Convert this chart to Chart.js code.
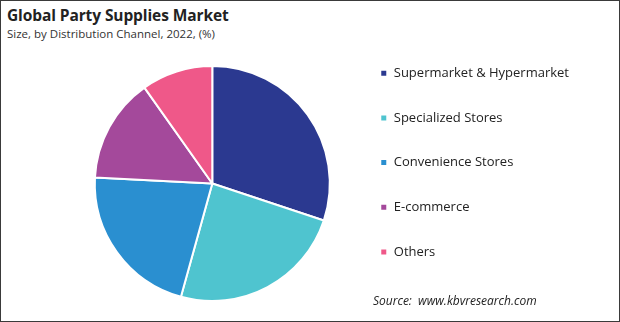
<!DOCTYPE html>
<html>
<head>
<meta charset="utf-8">
<script src="https://cdn.jsdelivr.net/npm/chart.js@4.4.0/dist/chart.umd.min.js"></script>
<style>
  html, body { margin: 0; padding: 0; background: #fff; }
  #frame {
    position: relative; width: 620px; height: 322px; box-sizing: border-box;
    border: 1px solid #3a3a3a; font-family: "Open Sans", sans-serif; color: #222; overflow: hidden;
  }
  #title { position: absolute; left: 6px; top: 3px; font-size: 15.5px; font-weight: bold; letter-spacing: -0.1px; }
  #subtitle { position: absolute; left: 6px; top: 25px; font-size: 11.5px; color: #333; }
  #source { position: absolute; left: 372px; top: 291px; font-size: 12px; font-style: italic; color: #222; }
  #wrap { position: absolute; left: 0; top: 34px; width: 618px; height: 297px; }
</style>
</head>
<body>
<div id="frame">
  <div id="title">Global Party Supplies Market</div>
  <div id="subtitle">Size, by Distribution Channel, 2022, (%)</div>
  <div id="wrap"><canvas id="chart-pie"></canvas></div>
  <div id="source">Source:&nbsp; www.kbvresearch.com</div>
</div>
<script>
const channels = ['Supermarket & Hypermarket', 'Specialized Stores', 'Convenience Stores', 'E-commerce', 'Others'];
const shares = [30.1, 24.2, 21.5, 14.4, 9.8];
const sliceColors = ['#2b3990', '#4fc4cf', '#2a8fd0', '#a4499b', '#ef5889'];

new Chart(document.getElementById('chart-pie'), {
  type: 'pie',
  data: {
    labels: channels,
    datasets: [
      {
        data: shares,
        backgroundColor: sliceColors,
        borderColor: '#ffffff',
        borderWidth: 2,
        radius: 117.5,
      },
    ],
  },
  options: {
    responsive: true,
    maintainAspectRatio: false,
    animation: false,
    layout: { padding: { left: 75, right: 40, top: 0, bottom: 0 } },
    plugins: {
      tooltip: { enabled: false },
      legend: {
        position: 'right',
        align: 'start',
        labels: {
          color: '#222',
          boxWidth: 7,
          boxHeight: 7,
          padding: 31.7,
          font: { family: '"Open Sans", sans-serif', size: 13 },
        },
      },
    },
  },
});
</script>
</body>
</html>
